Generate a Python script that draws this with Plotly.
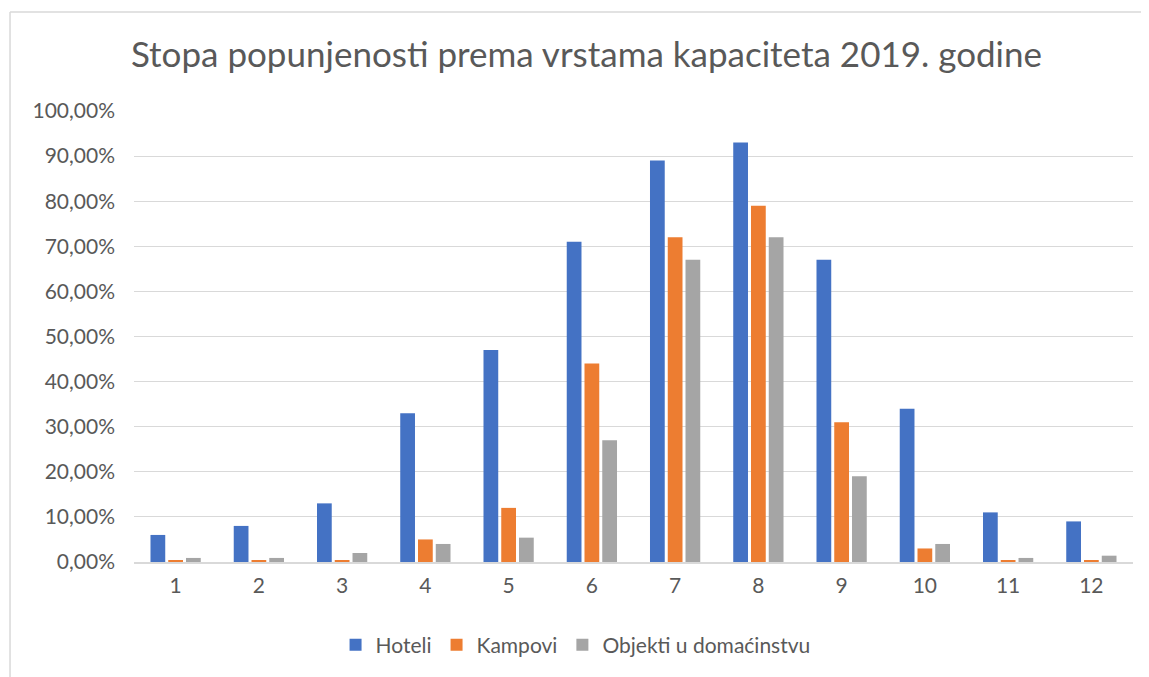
import plotly.graph_objects as go

months = ["1", "2", "3", "4", "5", "6", "7", "8", "9", "10", "11", "12"]
hoteli = [6, 8, 13, 33, 47, 71, 89, 93, 67, 34, 11, 9]
kampovi = [0.4, 0.4, 0.4, 5, 12, 44, 72, 79, 31, 3, 0.4, 0.4]
objekti = [0.9, 0.9, 2, 4, 5.4, 27, 67, 72, 19, 4, 0.9, 1.4]
tick_vals = [0, 10, 20, 30, 40, 50, 60, 70, 80, 90, 100]
tick_text = ["0,00%", "10,00%", "20,00%", "30,00%", "40,00%", "50,00%",
             "60,00%", "70,00%", "80,00%", "90,00%", "100,00%"]

font = "Lato, Open Sans, sans-serif"
fig = go.Figure()
for name, vals, col in [("Hoteli", hoteli, "#4472C4"),
                        ("Kampovi", kampovi, "#ED7D31"),
                        ("Objekti u domaćinstvu", objekti, "#A5A5A5")]:
    fig.add_trace(go.Bar(x=months, y=vals, name=name, marker_color=col,
                         marker_line_width=0))

fig.update_layout(
    width=1141, height=669,
    margin=dict(l=126, r=16, t=103, b=107),
    paper_bgcolor="white", plot_bgcolor="white",
    barmode="group", bargap=0.36, bargroupgap=0.17,
    title=dict(text="Stopa popunjenosti prema vrstama kapaciteta 2019. godine",
               x=0.507, xanchor="center", y=0.93, yanchor="middle",
               font=dict(family=font, size=35, color="#595959")),
    font=dict(family=font, color="#595959", size=21),
    legend=dict(orientation="h", x=0.442, xanchor="center", y=-0.184, yanchor="middle",
                font=dict(size=21, color="#595959"), itemwidth=30,
                traceorder="normal"),
    showlegend=True,
)
fig.update_yaxes(range=[0, 100], tickvals=tick_vals, ticktext=tick_text,
                 showgrid=True, gridcolor="#D9D9D9", gridwidth=1.3,
                 zeroline=False, ticks="", showline=False,
                 tickfont=dict(size=21, color="#595959"), ticklabelstandoff=18)
fig.update_xaxes(showline=True, linecolor="#D9D9D9", linewidth=1.5, ticks="",
                 tickfont=dict(size=21, color="#595959"), ticklabelstandoff=4)
fig.add_shape(type="line", xref="paper", yref="paper",
              x0=-0.1241, x1=-0.1241, y0=-0.3, y1=1.2195,
              line=dict(color="#D9D9D9", width=1.5), layer="below")
fig.add_shape(type="line", xref="paper", yref="paper",
              x0=-0.1241, x1=1.016, y0=1.2195, y1=1.2195,
              line=dict(color="#D9D9D9", width=1.5), layer="below")
fig.write_html("out.html")
